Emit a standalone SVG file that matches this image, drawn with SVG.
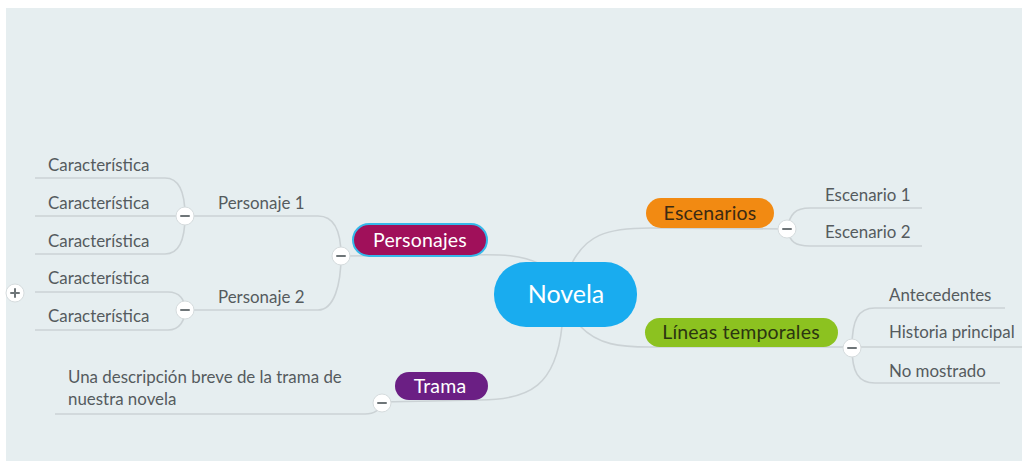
<svg xmlns="http://www.w3.org/2000/svg" width="1022" height="461" viewBox="0 0 1022 461">
<style>
.bg{fill:#E6EEF0}
.ln{fill:none;stroke:#CBD2D5;stroke-width:1.6}
.t{font-family:Lato,"Noto Sans","DejaVu Sans",sans-serif;font-size:16.9px;fill:#555B5E}
.nt{font-family:Lato,"Noto Sans","DejaVu Sans",sans-serif;font-size:19.5px;text-anchor:middle;letter-spacing:0.2px}
.cc{fill:#fff;stroke:#D6DCDE;stroke-width:1}
.cm{stroke:#6E7578;stroke-width:2;stroke-linecap:round}
</style>
<defs>
<g id="minus"><circle class="cc" r="9"/><line class="cm" x1="-4" y1="0" x2="4" y2="0"/></g>
<g id="plus"><circle class="cc" r="9"/><line class="cm" x1="-4" y1="0" x2="4" y2="0"/><line class="cm" x1="0" y1="-4" x2="0" y2="4"/></g>
</defs>
<rect x="0" y="0" width="1022" height="461" fill="#fff"/>
<rect class="bg" x="6" y="8" width="1016" height="453"/>

<g id="connectors">
<path class="ln" d="M540,264 C522,255 502,254 470,255 L341,256"/>
<path class="ln" d="M572,263 C586,236 605,228 650,228 L787,229"/>
<path class="ln" d="M580,326 C598,345 620,347 650,347 L852,347"/>
<path class="ln" d="M562,326 C556,385 530,400 480,400 L382,402"/>
<path class="ln" d="M185,216 L318,216 C334,216 341,230 341,256"/>
<path class="ln" d="M185,310 L318,310 C334,310 341,285 341,256"/>
<path class="ln" d="M35,178 L165,178 C180,178 185,195 185,216"/>
<path class="ln" d="M35,216 L185,216"/>
<path class="ln" d="M35,254 L165,254 C180,254 185,237 185,216"/>
<path class="ln" d="M35,292 L168,292 C180,292 185,300 185,310"/>
<path class="ln" d="M35,330 L168,330 C180,330 185,320 185,310"/>
<path class="ln" d="M787,229 C790,214 795,208 810,208 L922,208"/>
<path class="ln" d="M787,229 C790,242 795,246 810,246 L922,246"/>
<path class="ln" d="M852,347 C852,320 858,308 875,308 L1005,308"/>
<path class="ln" d="M852,347 L1022,347"/>
<path class="ln" d="M852,347 C852,372 858,383 875,383 L1000,383"/>
<path class="ln" d="M55,414 L365,414 C375,414 379,410 382,403"/>
</g>

<g id="novela">
<rect x="494" y="262" width="143" height="65" rx="32" fill="#19ACEF"/>
<text class="nt" x="566" y="303" style="font-size:25px;letter-spacing:0" fill="#fff">Novela</text>
</g>

<g id="personajes">
<rect x="353" y="224" width="134" height="32" rx="16" fill="#A0105A" stroke="#35B8EA" stroke-width="2"/>
<text class="nt" x="420" y="247" fill="#fff">Personajes</text>
<use href="#minus" x="341" y="256"/>
</g>

<g id="personaje1">
<text class="t" x="218" y="209">Personaje 1</text>
<use href="#minus" x="185" y="216"/>
</g>
<g id="personaje2">
<text class="t" x="218" y="303">Personaje 2</text>
<use href="#minus" x="185" y="310"/>
</g>
<g id="car1"><text class="t" x="48" y="171">Característica</text></g>
<g id="car2"><text class="t" x="48" y="209">Característica</text></g>
<g id="car3"><text class="t" x="48" y="247">Característica</text></g>
<g id="car4"><text class="t" x="48" y="284">Característica</text><use href="#plus" x="15" y="293"/></g>
<g id="car5"><text class="t" x="48" y="322">Característica</text></g>

<g id="escenarios">
<rect x="646" y="198" width="128" height="30" rx="15" fill="#F28A12"/>
<text class="nt" x="710" y="220" fill="#3D2A12">Escenarios</text>
<use href="#minus" x="787" y="229"/>
</g>
<g id="escenario1"><text class="t" x="825" y="201">Escenario 1</text></g>
<g id="escenario2"><text class="t" x="825" y="238">Escenario 2</text></g>

<g id="lineas">
<rect x="645" y="318" width="193" height="29" rx="14.5" fill="#8CC220"/>
<text class="nt" x="741" y="339" fill="#2B3510">Líneas temporales</text>
<use href="#minus" x="852" y="348"/>
</g>
<g id="antecedentes"><text class="t" x="889" y="301">Antecedentes</text></g>
<g id="historia"><text class="t" x="889" y="338">Historia principal</text></g>
<g id="nomostrado"><text class="t" x="889" y="377">No mostrado</text></g>

<g id="trama">
<rect x="395" y="372" width="93" height="28" rx="14" fill="#6B1F84"/>
<text class="nt" x="440" y="393" fill="#fff">Trama</text>
<use href="#minus" x="382" y="403"/>
</g>
<g id="tramadesc">
<text class="t" x="68" y="383">Una descripción breve de la trama de</text>
<text class="t" x="68" y="405">nuestra novela</text>
</g>
</svg>
